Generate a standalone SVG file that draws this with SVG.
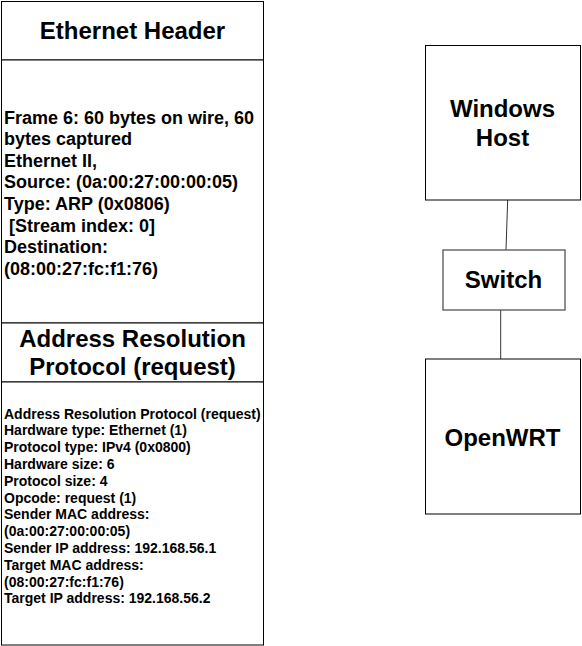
<svg xmlns="http://www.w3.org/2000/svg" width="582" height="646" viewBox="0 0 582 646">
<style>
.box{fill:#fff;stroke:#000;stroke-width:1}
.gbox{fill:#fff;stroke:#555;stroke-width:1.3}
.t{font-family:"Liberation Sans",Arial,sans-serif;font-weight:bold;fill:#000}
.title{font-size:24px;text-anchor:middle}
.b18{font-size:18px}
.b14{font-size:14px}
.conn{stroke:#333;stroke-width:1;fill:none}
</style>
<rect x="0" y="0" width="582" height="646" fill="#fff"/>
<g id="eth-header">
<rect class="box" x="1.5" y="1.5" width="262" height="58.5"/>
<text class="t title" x="132.5" y="39">Ethernet Header</text>
</g>
<g id="eth-body">
<rect class="box" x="1.5" y="60" width="262" height="263"/>
<text class="t b18" x="4">
<tspan x="4" y="123.5">Frame 6: 60 bytes on wire, 60</tspan>
<tspan x="4" y="145.1">bytes captured</tspan>
<tspan x="4" y="166.7">Ethernet II,</tspan>
<tspan x="4" y="188.3">Source: (0a:00:27:00:00:05)</tspan>
<tspan x="4" y="209.9">Type: ARP (0x0806)</tspan>
<tspan x="9" y="231.5">[Stream index: 0]</tspan>
<tspan x="4" y="253.1">Destination:</tspan>
<tspan x="4" y="274.7">(08:00:27:fc:f1:76)</tspan>
</text>
</g>
<g id="arp-header">
<rect class="box" x="1.5" y="323" width="262" height="59"/>
<text class="t title" x="132.5" y="346.5">Address Resolution</text>
<text class="t title" x="132.5" y="375.3">Protocol (request)</text>
</g>
<g id="arp-body">
<rect class="box" x="1.5" y="382" width="262" height="263"/>
<text class="t b14">
<tspan x="4" y="418.5">Address Resolution Protocol (request)</tspan>
<tspan x="4" y="435.3">Hardware type: Ethernet (1)</tspan>
<tspan x="4" y="452.1">Protocol type: IPv4 (0x0800)</tspan>
<tspan x="4" y="468.9">Hardware size: 6</tspan>
<tspan x="4" y="485.7">Protocol size: 4</tspan>
<tspan x="4" y="502.5">Opcode: request (1)</tspan>
<tspan x="4" y="519.3">Sender MAC address:</tspan>
<tspan x="4" y="536.1">(0a:00:27:00:00:05)</tspan>
<tspan x="4" y="552.9">Sender IP address: 192.168.56.1</tspan>
<tspan x="4" y="569.7">Target MAC address:</tspan>
<tspan x="4" y="586.5">(08:00:27:fc:f1:76)</tspan>
<tspan x="4" y="603.3">Target IP address: 192.168.56.2</tspan>
</text>
</g>
<g id="connectors">
<line class="conn" x1="507.7" y1="199" x2="506" y2="250"/>
<line class="conn" x1="500.7" y1="310" x2="500.7" y2="359"/>
</g>
<g id="windows-host">
<rect class="box" x="425.5" y="45.5" width="155" height="154.5"/>
<text class="t title" x="502.5" y="116.5">Windows</text>
<text class="t title" x="502.5" y="145.5">Host</text>
</g>
<g id="switch">
<rect class="gbox" x="443" y="250" width="122" height="60"/>
<text class="t title" x="503.5" y="288">Switch</text>
</g>
<g id="openwrt">
<rect class="box" x="425.5" y="359" width="155" height="155"/>
<text class="t title" x="502.5" y="445.5">OpenWRT</text>
</g>
</svg>
